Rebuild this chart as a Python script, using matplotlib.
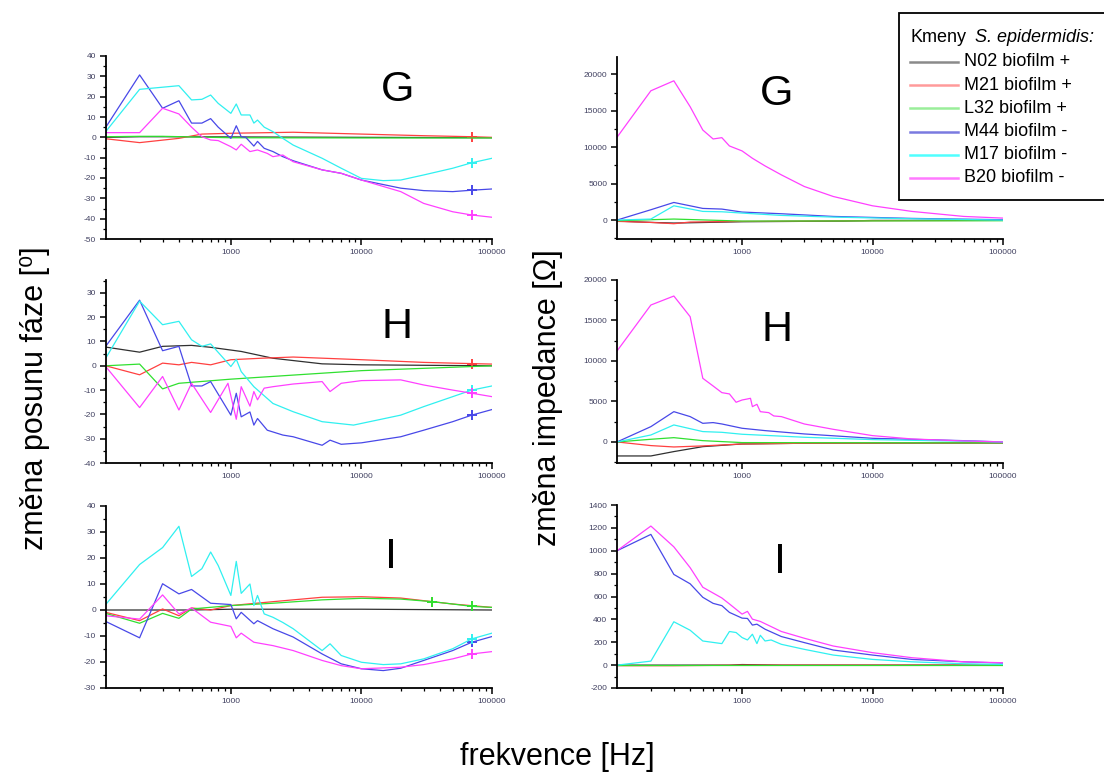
import matplotlib
matplotlib.use("Agg")
import matplotlib.pyplot as plt
from matplotlib.ticker import FixedLocator, LogLocator, FormatStrFormatter, MultipleLocator, NullFormatter
from matplotlib.lines import Line2D
from matplotlib.patches import Rectangle

plt.rcParams['font.family'] = ['Liberation Sans', 'DejaVu Sans']

# kmeny a barvy
kmeny = ["N02", "M21", "L32", "M44", "M17", "B20"]
popisky = ["N02 biofilm +", "M21 biofilm +", "L32 biofilm +",
           "M44 biofilm -", "M17 biofilm -", "B20 biofilm -"]
barvy = ["#303030", "#ff4040", "#30e030", "#4848e8", "#30f0f0", "#ff40ff"]
barvy_legenda = ["#8a8a8a", "#ff9a9a", "#9aee9a", "#7a7ae0", "#50ffff", "#ff7aff"]

# změna posunu fáze - G (frekvence Hz, stupně)
fazeG_N02 = [(110, 0), (200, 0.3), (300, 0.3), (1000, 0.2), (10000, 0), (100000, -0.2)]
fazeG_M21 = [(110, -0.7), (200, -2.6), (400, -0.5), (600, 1.6), (1000, 2), (3000, 2.5), (10000, 1.6),
             (30000, 0.8), (70000, 0.3), (100000, 0)]
fazeG_L32 = [(110, 0.3), (200, 0.5), (300, 0.5), (1000, -0.2), (10000, -0.3), (100000, -0.3)]
fazeG_M44 = [(110, 4.9), (200, 30.7), (300, 14.3), (400, 18), (500, 7), (600, 7), (700, 9.2), (800, 5),
             (1000, -0.5), (1100, 5.7), (1200, 0.3), (1300, 0), (1500, -4.3), (1600, -2), (1800, -5.4),
             (2100, -7), (2500, -9.5), (3000, -11.5), (5000, -16), (7000, -17.7), (10000, -21),
             (20000, -25), (30000, -26.2), (50000, -26.7), (70000, -26), (100000, -25.4)]
fazeG_M17 = [(110, 2.8), (200, 23.6), (400, 25.4), (500, 18.4), (600, 18.7), (700, 20.8), (800, 16.7),
             (1000, 11.8), (1100, 16.4), (1200, 11), (1400, 11), (1500, 7), (1600, 8.5), (1800, 5),
             (2100, 2.8), (2500, -0.5), (3000, -3.8), (5000, -10.3), (7000, -15.2), (10000, -20.2),
             (14700, -21.3), (20000, -21), (30000, -18.5), (50000, -15.2), (70000, -12.5), (100000, -10.3)]
fazeG_B20 = [(110, 2.3), (200, 2.3), (300, 14.3), (400, 11.5), (500, 5), (600, 0.3), (700, -1.3),
             (800, -1.6), (1000, -4.6), (1100, -6.2), (1200, -3.4), (1400, -7), (1600, -6.2), (1900, -7.9),
             (2100, -9.5), (2500, -8.7), (3000, -12), (5000, -16), (7000, -17.7), (10000, -21),
             (20000, -26.7), (30000, -32.5), (50000, -36.6), (70000, -38.2), (100000, -39.3)]

# změna posunu fáze - H
fazeH_N02 = [(110, 7.7), (200, 5.6), (300, 8), (500, 8.4), (700, 7.6), (1200, 5.9), (2100, 3.1),
             (5000, 0.8), (10000, 0.4), (100000, 0)]
fazeH_M21 = [(110, 0), (200, -3.7), (300, 1.1), (400, 0.4), (500, 1.4), (700, 0.4), (1000, 2.5),
             (1700, 3.1), (3000, 3.6), (10000, 2.5), (30000, 1.4), (70000, 0.9), (100000, 0.7)]
fazeH_L32 = [(110, 0), (200, 0.7), (300, -9.5), (400, -7.2), (1000, -5.5), (10000, -2), (100000, 0)]
fazeH_M44 = [(110, 8), (200, 27), (300, 6.2), (400, 8), (500, -8.3), (600, -8.3), (700, -6.5),
             (1000, -20.3), (1100, -11.3), (1200, -21), (1400, -19), (1500, -24.4), (1600, -21.7),
             (1900, -26.5), (2500, -28.5), (3000, -29.2), (5000, -32.7), (5750, -30.6), (7000, -32.3),
             (10000, -31.7), (20000, -29.2), (30000, -26.5), (50000, -23), (70000, -20.3), (100000, -18)]
fazeH_M17 = [(110, 3.1), (200, 26.6), (300, 16.9), (400, 18.3), (500, 10.7), (600, 8), (700, 9),
             (1000, -0.3), (1100, 2.7), (1200, -2.4), (1500, -8.6), (2100, -15.5), (3000, -18.9),
             (5000, -23), (8700, -24.4), (20000, -20.3), (30000, -16.8), (50000, -12.7), (70000, -10),
             (100000, -8.3)]
fazeH_B20 = [(110, -0.3), (200, -17.2), (300, -4.4), (400, -18.2), (500, -7.2), (700, -19.2),
             (950, -7.2), (1100, -22), (1200, -8.6), (1400, -16.6), (1500, -10.6), (1600, -14),
             (1800, -9.2), (2100, -8.6), (3000, -7.5), (5000, -6.5), (5750, -10.6), (7000, -7.2),
             (10000, -6.1), (20000, -5.8), (30000, -7.9), (50000, -10), (70000, -11.3), (100000, -12.7)]

# změna posunu fáze - I
fazeI_N02 = [(110, 0), (500, 0), (1000, 0.3), (10000, 0.3), (100000, 0)]
fazeI_M21 = [(110, -0.9), (200, -4.1), (300, 0.4), (400, -2.2), (500, 0.8), (700, 0), (1000, 1.7),
             (2100, 3.2), (5000, 4.9), (10000, 5.1), (20000, 4.6), (35000, 3.2), (50000, 2.3), (100000, 1)]
fazeI_L32 = [(110, -1.3), (200, -5.1), (300, -1.3), (400, -3.2), (500, 0.4), (1000, 1.7), (2100, 2.6),
             (5000, 3.9), (10000, 4.5), (20000, 4.2), (35000, 3.2), (50000, 2.3), (70000, 1.4), (100000, 1)]
fazeI_M44 = [(110, -4.4), (200, -10.7), (300, 10.1), (400, 6.2), (500, 7.9), (700, 2.6), (1000, 2.1),
             (1100, -3.4), (1200, -0.9), (1500, -5.3), (1600, -4.1), (2100, -7.2), (3000, -10.4),
             (5000, -16.9), (7000, -20.7), (10000, -22.6), (14700, -23.3), (20000, -22.4), (30000, -19.4),
             (50000, -15.6), (70000, -12.4), (100000, -10.2)]
fazeI_M17 = [(110, 2.1), (200, 17.5), (300, 24), (400, 32.2), (500, 12.9), (600, 15.9), (700, 22.3),
             (800, 17.1), (1000, 5.6), (1100, 18.7), (1200, 6.4), (1400, 10), (1500, 1.7), (1600, 5.6),
             (1800, -1.5), (2100, -2.8), (2500, -4.8), (3000, -7.2), (5000, -15.6), (5750, -13),
             (7000, -17.5), (10000, -20.1), (14700, -21), (20000, -20.7), (30000, -18.8), (50000, -14.9),
             (70000, -11.1), (100000, -8.9)]
fazeI_B20 = [(110, -2.2), (200, -3.5), (300, 5.8), (400, -1.5), (500, 0.8), (700, -4.7), (1000, -6.3),
             (1100, -10.7), (1200, -8.9), (1500, -12.4), (2100, -13.7), (3000, -15.6), (5000, -19.4),
             (7000, -21.4), (10000, -22.6), (20000, -22), (30000, -21), (50000, -18.8), (70000, -16.9),
             (100000, -16)]

# změna impedance - G (Ohm)
impG_N02 = [(110, -140), (200, -320), (300, -410), (1000, -230), (6000, -140), (10000, -50), (100000, -20)]
impG_M21 = [(110, -180), (200, -320), (300, -500), (400, -270), (1000, -180), (10000, -90), (100000, -40)]
impG_L32 = [(110, -90), (300, 140), (1000, -140), (100000, -90)]
impG_M44 = [(110, 0), (200, 1420), (300, 2420), (500, 1600), (700, 1510), (1000, 1100), (2000, 870),
            (5000, 500), (20000, 230), (100000, 50)]
impG_M17 = [(110, 0), (200, 140), (300, 1960), (500, 1190), (700, 1140), (1000, 960), (2000, 640),
            (5000, 410), (20000, 180), (100000, 0)]
impG_B20 = [(110, 11370), (200, 17760), (300, 19130), (400, 15570), (500, 12370), (600, 11140),
            (700, 11320), (800, 10180), (1000, 9500), (1200, 8490), (1500, 7440), (2000, 6210),
            (3000, 4610), (5000, 3240), (10000, 1960), (20000, 1190), (50000, 500), (100000, 270)]

# změna impedance - H
impH_N02 = [(110, -1730), (200, -1730), (300, -1190), (500, -580), (1000, -250), (3000, -160), (100000, -120)]
impH_M21 = [(110, 0), (200, -450), (300, -620), (500, -490), (1000, -250), (3000, -160), (100000, -120)]
impH_L32 = [(110, 0), (200, 330), (300, 530), (500, 160), (1000, -80), (100000, -120)]
impH_M44 = [(110, 0), (200, 1890), (300, 3740), (400, 3130), (500, 2300), (600, 2390), (700, 2220),
            (1000, 1690), (1500, 1400), (3000, 990), (10000, 450), (50000, 160), (100000, 0)]
impH_M17 = [(110, 0), (200, 860), (300, 2100), (500, 1280), (700, 1190), (1000, 950), (3000, 580),
            (10000, 290), (100000, 0)]
impH_B20 = [(110, 11230), (200, 16910), (300, 18020), (400, 15470), (500, 7860), (600, 6910), (700, 6090),
            (800, 5930), (900, 4900), (1000, 5180), (1100, 5310), (1160, 5390), (1200, 4360), (1300, 4650),
            (1380, 3740), (1600, 3620), (1750, 3210), (2000, 3130), (3000, 2220), (5000, 1560),
            (10000, 780), (20000, 370), (50000, 120), (100000, 0)]

# změna impedance - I
impI_N02 = [(110, 0), (800, 0), (1000, 5), (2000, 0), (100000, 0)]
impI_M21 = [(110, -5), (300, -5), (1000, 0), (100000, 0)]
impI_L32 = [(110, 0), (100000, 0)]
impI_M44 = [(110, 1000), (200, 1143), (300, 793), (400, 711), (500, 593), (600, 540), (700, 520),
            (800, 461), (1000, 411), (1100, 408), (1200, 350), (1300, 358), (1500, 314), (2000, 250),
            (3000, 197), (5000, 132), (10000, 88), (20000, 50), (50000, 29), (100000, 18)]
impI_M17 = [(110, 0), (200, 35), (300, 379), (400, 305), (500, 211), (700, 188), (800, 294), (900, 285),
            (1000, 241), (1100, 220), (1200, 270), (1300, 188), (1380, 261), (1500, 211), (1670, 220),
            (1860, 197), (2000, 182), (3000, 138), (5000, 88), (10000, 50), (20000, 29), (50000, 12),
            (100000, 6)]
impI_B20 = [(110, 1000), (200, 1216), (300, 1034), (400, 852), (500, 681), (700, 587), (800, 535),
            (1000, 446), (1100, 470), (1200, 402), (1380, 382), (2000, 294), (3000, 235), (5000, 167),
            (10000, 109), (20000, 65), (50000, 29), (100000, 21)]

# značky "+" (frekvence)
znackyG = {"M21": [70000], "M44": [70000], "M17": [70000], "B20": [70000]}
znackyH = {"M21": [70000], "M44": [70000], "M17": [70000], "B20": [70000]}
znackyI = {"M21": [35000], "L32": [35000, 70000], "M44": [70000], "M17": [70000], "B20": [70000]}

W, H = 1104, 774
fig = plt.figure(figsize=(W / 100, H / 100), dpi=100)


def osa(left, top, right, bottom):
    return fig.add_axes([left / W, 1 - bottom / H, (right - left) / W, (bottom - top) / H])


# (data, znacky, pozice px, ylim, krok, popis, pozice popisu px)
panely = [
    ([fazeG_N02, fazeG_M21, fazeG_L32, fazeG_M44, fazeG_M17, fazeG_B20], znackyG,
     (105.7, 56, 492, 239), (-50, 40), 10, "G", (398, 90)),
    ([fazeH_N02, fazeH_M21, fazeH_L32, fazeH_M44, fazeH_M17, fazeH_B20], znackyH,
     (105.7, 280, 492, 463), (-40, 35.3), 10, "H", (397, 327)),
    ([fazeI_N02, fazeI_M21, fazeI_L32, fazeI_M44, fazeI_M17, fazeI_B20], znackyI,
     (105.7, 506, 492, 688), (-30, 40), 10, "I", (391, 557)),
    ([impG_N02, impG_M21, impG_L32, impG_M44, impG_M17, impG_B20], {},
     (617, 57, 1003, 239), (-2600, 22400), 5000, "G", (777, 94)),
    ([impH_N02, impH_M21, impH_L32, impH_M44, impH_M17, impH_B20], {},
     (617, 280, 1003, 463), (-2600, 20000), 5000, "H", (777, 330)),
    ([impI_N02, impI_M21, impI_L32, impI_M44, impI_M17, impI_B20], {},
     (617, 505, 1003, 688), (-200, 1400), 200, "I", (780, 562)),
]

for data, znacky, poz, ylim, krok, pismeno, ppoz in panely:
    ax = osa(*poz)
    for kmen, barva, serie in zip(kmeny, barvy, data):
        f = [p[0] for p in serie]
        v = [p[1] for p in serie]
        me = [f.index(x) for x in znacky.get(kmen, []) if x in f]
        if me:
            ax.plot(f, v, color=barva, lw=0.9, marker='+', markevery=me, ms=7, mew=1.4)
        else:
            ax.plot(f, v, color=barva, lw=0.9)
    ax.set_xscale('log')
    ax.set_xlim(110, 100000)
    ax.set_ylim(*ylim)
    ax.xaxis.set_major_locator(FixedLocator([1000, 10000, 100000]))
    ax.xaxis.set_major_formatter(FormatStrFormatter('%d'))
    ax.xaxis.set_minor_locator(LogLocator(base=10, subs=range(2, 10), numticks=20))
    ax.xaxis.set_minor_formatter(NullFormatter())
    ax.yaxis.set_major_locator(MultipleLocator(krok))
    ax.yaxis.set_minor_locator(MultipleLocator(krok / 2))
    ax.yaxis.set_major_formatter(FormatStrFormatter('%d'))
    for s in ['top', 'right']:
        ax.spines[s].set_visible(False)
    for s in ['left', 'bottom']:
        ax.spines[s].set_linewidth(1.3)
    ax.tick_params(which='major', direction='out', length=4, width=1.1, labelsize=6,
                   labelcolor='#404060', pad=3)
    ax.tick_params(which='minor', direction='out', length=2.5, width=0.9)
    ax.patch.set_alpha(0)
    fig.text(ppoz[0] / W, 1 - ppoz[1] / H, pismeno, fontsize=31, ha='center', va='center')

fig.text(35 / W, 1 - 398 / H, "změna posunu fáze [⁰]", rotation=90, fontsize=22,
         ha='center', va='center')
fig.text(548 / W, 1 - 398 / H, "změna impedance [Ω]", rotation=90, fontsize=22,
         ha='center', va='center')
fig.text(557 / W, 1 - 757 / H, "frekvence [Hz]", fontsize=22, ha='center', va='center')

# legenda
fig.add_artist(Rectangle((899 / W, 1 - 200 / H), 215 / W, 187 / H, transform=fig.transFigure,
                         facecolor='white', edgecolor='black', lw=1.3, clip_on=False))
fig.text(910 / W, 1 - 38 / H, "Kmeny", fontsize=13, ha='left', va='center')
fig.text(975 / W, 1 - 38 / H, "S. epidermidis:", fontsize=13, ha='left', va='center', style='italic')
for i, (popis, barva) in enumerate(zip(popisky, barvy_legenda)):
    y = 1 - (62 + i * 23.2) / H
    fig.add_artist(Line2D([910 / W, 958 / W], [y, y], transform=fig.transFigure, color=barva, lw=1.8))
    fig.text(964 / W, y, popis, fontsize=13, ha='left', va='center')

fig.savefig("out.png", dpi=100)
